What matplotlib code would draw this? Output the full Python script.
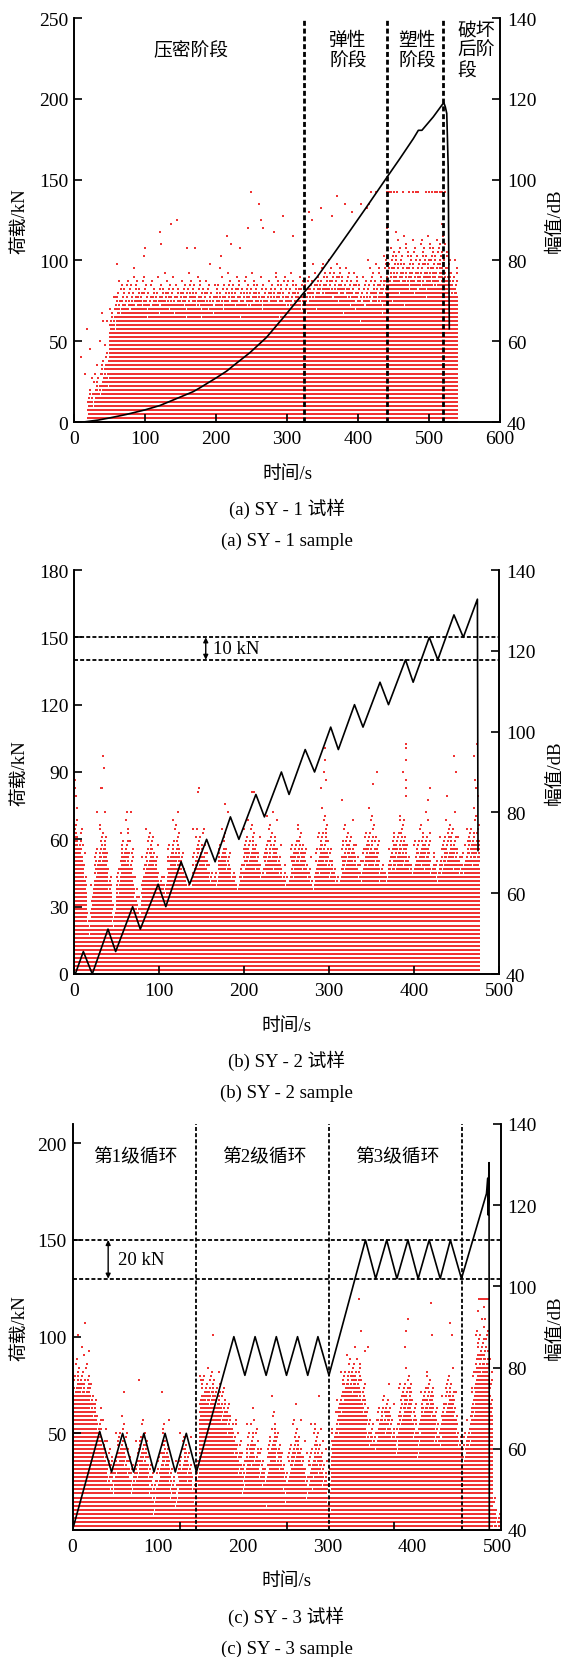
import numpy as np
import matplotlib.pyplot as plt

plt.rcParams['font.family'] = ['Liberation Serif', 'Noto Sans CJK SC']
plt.rcParams['font.size'] = 13.5
plt.rcParams['xtick.labelsize'] = 14
plt.rcParams['ytick.labelsize'] = 14
plt.rcParams['axes.linewidth'] = 1.2
plt.rcParams['axes.unicode_minus'] = False

# ---------------- SY-1 ----------------
sy1_time = [0, 15, 34, 50, 74, 100, 121, 150, 168, 177.5, 201, 215, 224, 248, 271, 295,
            324, 342, 365, 389, 412, 441, 459, 478, 485, 490, 506, 519, 521, 523, 525,
            526, 527, 528.6]
sy1_load = [0, 0.1, 1.2, 2.5, 4.7, 7.5, 10.2, 15.5, 18.8, 21.2, 27.5, 31.5, 34.7, 43, 52.3, 64.7,
            80.2, 89.5, 103.6, 118.5, 133, 151.6, 163, 175.4, 180.5, 180.5, 188.8, 196.6, 197.5, 195, 191,
            175, 157.8, 57.7]
sy1_stage_x = [324, 441, 520]
# AE amplitude band per 10 s bin: fully filled up to solid, thinning up to loose (dB)
sy1_solid = [39, 39, 39, 41, 46, 58, 62, 63, 63, 63,
             62, 63, 63, 63, 64, 63, 64, 63, 63, 63,
             64, 64, 64, 64, 64, 64, 63, 64, 64, 64,
             64, 64, 63, 64, 65, 65, 65, 65, 65, 64,
             63, 62, 63, 63, 64, 64, 64, 65, 64, 65,
             65, 65, 68, 66]
sy1_loose = [39, 39, 52, 56, 60, 72, 77, 77, 78, 78,
             77, 77, 78, 78, 77, 77, 78, 78, 77, 77,
             78, 78, 78, 78, 78, 78, 78, 78, 79, 78,
             79, 78, 79, 80, 80, 82, 82, 82, 80, 80,
             78, 80, 82, 82, 88, 90, 88, 88, 88, 90,
             90, 90, 86, 82]
sy1_out_t = [10, 15, 18, 23, 26, 32, 37, 40, 41, 47, 58, 61, 85, 98, 100, 121, 123, 136, 145, 159,
             171, 191, 207, 216, 221, 234, 245, 249, 260, 264, 266, 282, 294, 295, 309, 331, 335, 348,
             364, 371, 381, 392, 404, 412, 416, 419]
sy1_out_db = [56, 52, 63, 58, 51, 54, 60, 67, 65, 65, 71, 79, 78, 81, 83, 87, 84, 89, 90, 83,
              83, 79, 81, 86, 84, 83, 88, 97, 94, 90, 88, 87, 91, 91, 86, 92, 90, 93,
              91, 96, 94, 92, 94, 93, 94, 97]
sy1_cap_t = [426, 441, 444, 447, 450, 455, 463, 472, 478, 481, 484, 496, 500, 504, 508, 511,
             515, 519, 523]
sy1_cap_db = 97

# ---------------- SY-2 ----------------
sy2_time = [1.5, 11, 21.5, 40, 49, 69, 78, 99, 108, 126, 136, 156, 166, 184, 194, 214, 224, 244,
            253, 272, 283, 302, 311, 330, 340, 360, 370, 390, 399, 418, 428, 447, 458, 474.6, 475.3]
sy2_load = [0, 10, 0, 20, 10, 30, 20, 40, 30, 50, 40, 60, 50, 70, 60, 80, 70, 90,
            80, 100, 90, 110, 100, 120, 110, 130, 120, 140, 130, 150, 140, 160, 150, 167, 55]
sy2_hlines = [150, 140]
sy2_solid = [71, 68, 60, 47, 53, 62, 64, 64, 56, 50,
             58, 63, 64, 62, 55, 52, 58, 63, 64, 61,
             60, 59, 62, 64, 64, 62, 60, 59, 62, 64,
             64, 62, 60, 60, 63, 64, 62, 61, 59, 61,
             63, 64, 64, 62, 61, 63, 64, 64, 62, 61,
             59, 62, 64, 64, 62, 61, 60, 62, 64, 64,
             62, 61, 60, 62, 64, 64, 62, 61, 62, 64,
             64, 62, 61, 61, 62, 63, 64, 64, 62, 61,
             62, 63, 64, 64, 62, 61, 62, 64, 64, 64,
             62, 62, 62, 64, 64, 63]
sy2_loose = [82, 78, 72, 56, 64, 76, 80, 80, 68, 58,
             70, 78, 80, 76, 64, 60, 70, 78, 80, 74,
             66, 64, 74, 80, 80, 74, 66, 64, 76, 80,
             78, 72, 66, 68, 78, 78, 74, 68, 64, 70,
             80, 80, 80, 74, 70, 80, 80, 80, 74, 68,
             64, 74, 80, 80, 76, 70, 64, 78, 82, 82,
             74, 68, 66, 80, 80, 80, 74, 70, 78, 82,
             82, 78, 70, 68, 74, 80, 82, 84, 76, 70,
             76, 80, 80, 80, 72, 70, 76, 80, 82, 82,
             76, 72, 78, 82, 84, 82]
sy2_out_t = [0, 0, 1, 1, 2, 27, 32, 33, 34, 35, 37, 62, 67, 122, 146, 147, 178, 181, 209, 212,
             234, 291, 294, 295, 295, 296, 315, 352, 357, 387, 390, 390, 390, 391, 391, 391,
             417, 419, 439, 447, 449, 470, 472, 473, 474, 475]
sy2_out_db = [92, 90, 88, 86, 84, 80, 86, 86, 94, 91, 80, 80, 80, 80, 85, 86, 82, 80, 85, 85,
              80, 86, 90, 96, 93, 88, 83, 87, 90, 90, 96, 93, 88, 86, 84, 97,
              83, 86, 84, 94, 90, 94, 88, 86, 97, 84]

# ---------------- SY-3 ----------------
sy3_time = [0, 32, 46, 59, 72, 84, 96, 109, 121, 134, 146, 190, 203, 215, 228, 240, 252, 265,
            277, 289, 302, 345, 357, 370, 382, 395, 407, 420, 433, 445, 458, 487.5, 489, 489.3,
            490.5, 490.8]
sy3_load = [0, 51, 30, 50, 30, 50, 30, 50, 30, 50, 30, 100, 80, 100, 80, 100, 80, 100,
            80, 100, 80, 150, 130, 150, 130, 150, 130, 150, 130, 150, 130, 174, 182, 163,
            190, 0]
sy3_stage_x = [146, 302, 459]
sy3_hlines = [150, 130]
sy3_solid = [70, 70, 70, 69, 67, 64, 60, 55, 47, 43,
             51, 54, 53, 47, 43, 49, 53, 51, 45, 41,
             47, 53, 51, 45, 41, 47, 51, 49, 43, 47,
             66, 68, 68, 68, 66, 64, 62, 60, 56, 50,
             46, 52, 54, 52, 48, 44, 50, 54, 52, 48,
             44, 48, 52, 52, 48, 44, 48, 52, 50, 46,
             42, 56, 62, 66, 70, 72, 72, 70, 66, 60,
             58, 56, 60, 62, 62, 58, 56, 62, 66, 66,
             60, 56, 62, 66, 66, 60, 56, 62, 66, 66,
             60, 56, 54, 58, 64, 72, 76, 76, 66, 39,
             39]
sy3_loose = [84, 85, 85, 84, 80, 76, 72, 68, 64, 62,
             66, 70, 68, 62, 60, 66, 70, 66, 60, 58,
             64, 70, 66, 60, 58, 64, 68, 64, 58, 62,
             80, 82, 82, 82, 80, 78, 76, 72, 68, 66,
             62, 68, 72, 68, 64, 60, 68, 74, 68, 64,
             60, 66, 72, 70, 64, 60, 66, 72, 68, 62,
             58, 68, 74, 80, 84, 86, 86, 84, 80, 74,
             70, 68, 74, 76, 78, 72, 68, 78, 82, 82,
             76, 70, 78, 82, 82, 76, 70, 76, 82, 82,
             74, 68, 66, 72, 82, 92, 94, 94, 86, 50,
             46]
sy3_out_t = [7, 15, 19, 61, 78, 105, 114, 151, 166, 235, 263, 290, 337, 340, 344, 348, 392, 393,
             395, 422, 423, 444, 447, 477, 479, 481, 483, 485, 487, 489, 484, 486]
sy3_out_db = [88, 91, 84, 74, 77, 74, 67, 77, 88, 73, 71, 73, 97, 89, 84, 85, 85, 89,
              92, 96, 88, 91, 88, 94, 97, 97, 97, 97, 97, 97, 95, 92]

W, H = 566, 1658
RED = '#f03333'
DOT = dict(s=4.5, marker='s', c=RED, linewidths=0)


def ae_points(t_end, bin_w, solid, loose):
    ts, ds = [], []
    for i, t in enumerate(np.arange(0, t_end + 0.1, 1.0)):
        b = min(int(t // bin_w), len(solid) - 1)
        s, l = solid[b], loose[b]
        for lev in range(40, max(s, l) + 1):
            if lev <= s:
                keep = True
            else:
                f = (l - lev + 1) / (l - s + 1)
                keep = (i * 0.618034 + lev * 0.414214) % 1.0 < 0.7 * f ** 1.6
            if keep:
                ts.append(t)
                ds.append(lev)
    return np.array(ts), np.array(ds)


def make_axes(fig, left, right, top, bottom):
    ax = fig.add_axes([left / W, 1 - bottom / H, (right - left) / W, (bottom - top) / H])
    ax2 = ax.twinx()
    ax.set_zorder(2)
    ax2.set_zorder(1)
    ax.patch.set_visible(False)
    for a in (ax, ax2):
        a.spines['top'].set_visible(False)
    ax.tick_params(direction='in', length=6, width=1.2, top=False, right=False, pad=4)
    ax.tick_params(axis='x', pad=6)
    ax2.tick_params(direction='in', length=6, width=1.2, pad=5)
    return ax, ax2


def labels(fig, left, right, top, bottom, cap_cn, cap_en):
    cx = (left + right) / 2 / W
    fig.text(cx, 1 - (bottom + 51) / H, '时间/s', ha='center', va='center')
    fig.text(cx, 1 - (bottom + 86) / H, cap_cn, ha='center', va='center')
    fig.text(cx, 1 - (bottom + 118) / H, cap_en, ha='center', va='center')
    cy = 1 - (top + bottom) / 2 / H
    fig.text(20 / W, cy, '荷载/kN', rotation=90, ha='center', va='center')
    fig.text(555 / W, cy, '幅值/dB', rotation=90, ha='center', va='center')


fig = plt.figure(figsize=(W / 100, H / 100), dpi=100)

# panel (a)
L, R, T, B = 74, 500, 19, 423
ax, ax2 = make_axes(fig, L, R, T, B)
t, d = ae_points(540, 10, sy1_solid, sy1_loose)
ax2.scatter(t, d, **DOT)
ax2.scatter(sy1_out_t, sy1_out_db, **DOT)
ax2.scatter(sy1_cap_t, [sy1_cap_db] * len(sy1_cap_t), **DOT)
ax.plot(sy1_time, sy1_load, color='k', lw=1.2)
for x in sy1_stage_x:
    ax.axvline(x, color='k', lw=2, ls=(0, (1.8, 1.0)))
ax.set_xlim(0, 600)
ax.set_ylim(0, 250)
ax2.set_ylim(40, 140)
ax.set_xticks(range(0, 601, 100))
ax.set_yticks(range(0, 251, 50))
ax2.set_yticks(range(40, 141, 20))
ax.text(164, 230, '压密阶段', ha='center', va='center')
ax.text(386, 230, '弹性\n阶段', ha='center', va='center', linespacing=1.25)
ax.text(483, 230, '塑性\n阶段', ha='center', va='center', linespacing=1.25)
ax.text(540, 230, '破坏\n后阶\n段', ha='left', va='center', linespacing=1.25)
labels(fig, L, R, T, B, '(a) SY - 1 试样', '(a) SY - 1 sample')

# panel (b)
L, R, T, B = 74, 499, 571, 975
ax, ax2 = make_axes(fig, L, R, T, B)
t, d = ae_points(477, 5, sy2_solid, sy2_loose)
ax2.scatter(t, d, **DOT)
ax2.scatter(sy2_out_t, sy2_out_db, **DOT)
ax.plot(sy2_time, sy2_load, color='k', lw=1.2)
for y in sy2_hlines:
    ax.axhline(y, color='k', lw=1.3, ls=(0, (2.2, 1.2)))
ax.annotate('', xy=(155, 150), xytext=(155, 140),
            arrowprops=dict(arrowstyle='<|-|>', color='k', lw=1, mutation_scale=7,
                            shrinkA=0, shrinkB=0))
ax.text(164, 145, '10 kN', ha='left', va='center')
ax.set_xlim(0, 500)
ax.set_ylim(0, 180)
ax2.set_ylim(40, 140)
ax.set_xticks(range(0, 501, 100))
ax.set_yticks(range(0, 181, 30))
ax2.set_yticks(range(40, 141, 20))
labels(fig, L, R, T, B, '(b) SY - 2 试样', '(b) SY - 2 sample')

# panel (c)
L, R, T, B = 72.5, 500.5, 1125, 1531
ax, ax2 = make_axes(fig, L, R, T, B)
t, d = ae_points(503, 5, sy3_solid, sy3_loose)
ax2.scatter(t, d, **DOT)
ax2.scatter(sy3_out_t, sy3_out_db, **DOT)
ax.plot(sy3_time, sy3_load, color='k', lw=1.2)
for x in sy3_stage_x:
    ax.axvline(x, color='k', lw=1.3, ls=(0, (2.2, 1.2)))
for y in sy3_hlines:
    ax.axhline(y, color='k', lw=1.3, ls=(0, (2.2, 1.2)))
ax.annotate('', xy=(42, 150), xytext=(42, 130),
            arrowprops=dict(arrowstyle='<|-|>', color='k', lw=1, mutation_scale=7,
                            shrinkA=0, shrinkB=0))
ax.text(54, 140, '20 kN', ha='left', va='center')
ax.text(74, 193, '第1级循环', ha='center', va='center')
ax.text(226, 193, '第2级循环', ha='center', va='center')
ax.text(382, 193, '第3级循环', ha='center', va='center')
ax.set_xlim(0, 504)
ax.set_ylim(0, 210)
ax2.set_ylim(40, 140)
ax.set_xticks(range(0, 501, 100))
ax.set_xticks([126, 252, 378], minor=True)
ax.tick_params(axis='x', which='major', length=0)
ax.tick_params(axis='x', which='minor', direction='in', length=6, width=1.2, top=False)
ax.set_yticks([50, 100, 150, 200])
ax2.set_yticks(range(40, 141, 20))
labels(fig, L, R, T, B, '(c) SY - 3 试样', '(c) SY - 3 sample')

fig.savefig('out.png', dpi=100)
